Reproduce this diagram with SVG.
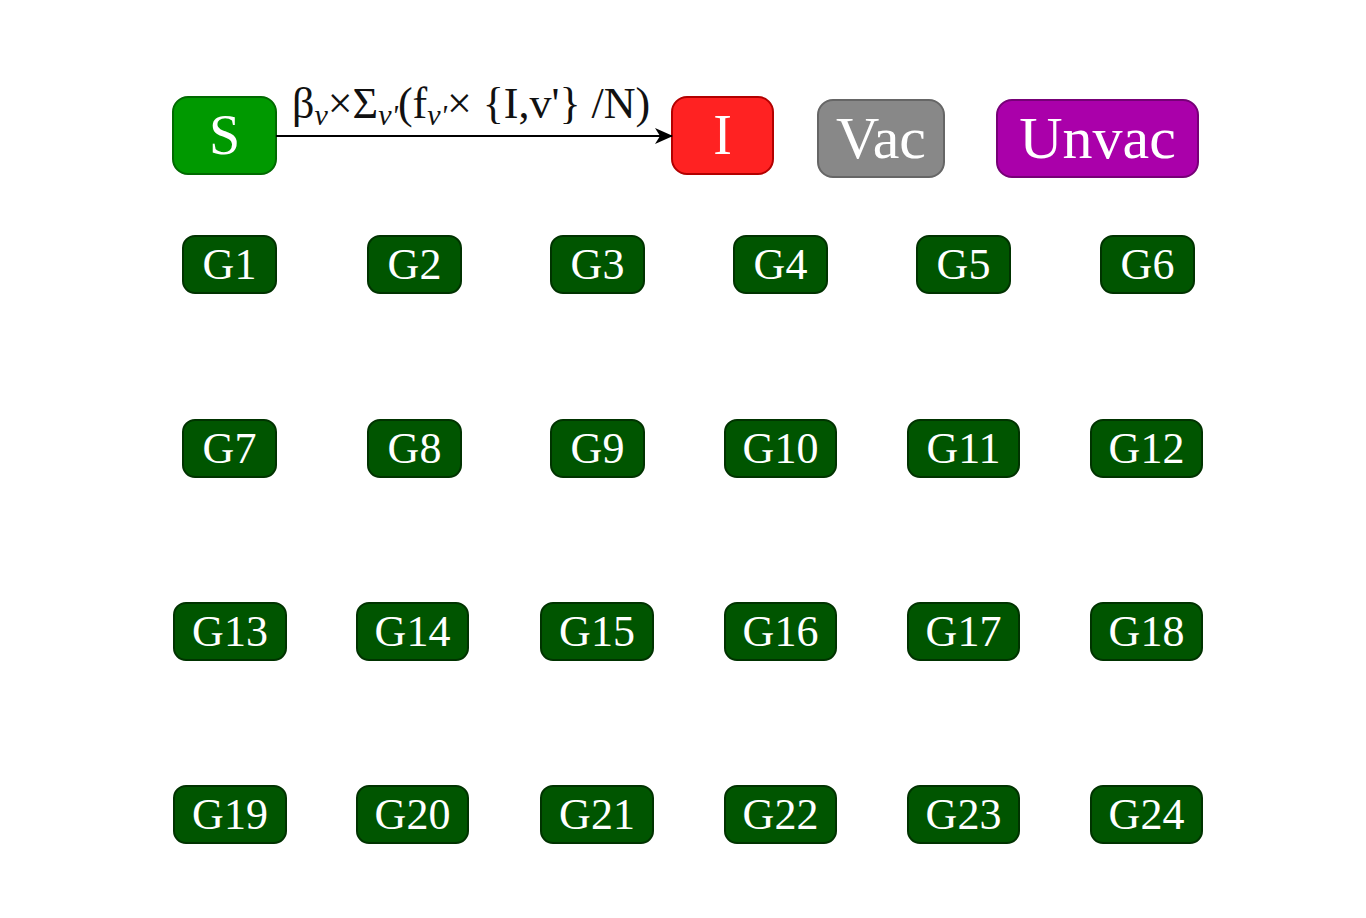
<svg xmlns="http://www.w3.org/2000/svg" width="1366" height="918" viewBox="0 0 1366 918">
<defs>
<marker id="arr" markerWidth="18" markerHeight="16" refX="17" refY="8" orient="auto" markerUnits="userSpaceOnUse">
<path d="M0,0 L18,8 L0,16 L5,8 Z" fill="#000"/>
</marker>
</defs>
<style>
.t{font-family:"Liberation Serif","Times New Roman",serif;fill:#fff;text-anchor:middle}
.g rect{fill:#005500;stroke:#003300;stroke-width:2}
.g text{font-size:44px}
.lbl{font-family:"Liberation Serif","Times New Roman",serif;font-size:44px;fill:#111}
.sub{font-size:30px;font-style:italic}
</style>
<rect width="1366" height="918" fill="#fff"/>
<g id="S"><rect x="173" y="97" width="103" height="77" rx="15" fill="#009900" stroke="#006a00" stroke-width="2"/><text class="t" x="224.5" y="154" font-size="56">S</text></g>
<g id="I"><rect x="672" y="97" width="101" height="77" rx="15" fill="#ff2222" stroke="#b30000" stroke-width="2"/><text class="t" x="722.5" y="154" font-size="56">I</text></g>
<g id="Vac"><rect x="818" y="100" width="126" height="77" rx="15" fill="#888888" stroke="#666666" stroke-width="2"/><text class="t" x="881" y="158" font-size="60">Vac</text></g>
<g id="Unvac"><rect x="997" y="100" width="201" height="77" rx="15" fill="#aa00aa" stroke="#770077" stroke-width="2"/><text class="t" x="1097.5" y="158" font-size="60">Unvac</text></g>
<g id="connectors">
<line x1="276" y1="136" x2="672" y2="136" stroke="#000" stroke-width="2" marker-end="url(#arr)"/>
<text class="lbl" x="292" y="118">β<tspan class="sub" dy="7">v</tspan><tspan dy="-7">×Σ</tspan><tspan class="sub" dy="7">v'</tspan><tspan dy="-7">(f</tspan><tspan class="sub" dy="7">v'</tspan><tspan dy="-7">× {I,v'} /N)</tspan></text>
</g>
<g class="g">
<g id="G1"><rect x="183" y="236" width="93" height="57" rx="12"/><text class="t" x="229.5" y="279">G1</text></g>
<g id="G2"><rect x="368" y="236" width="93" height="57" rx="12"/><text class="t" x="414.5" y="279">G2</text></g>
<g id="G3"><rect x="551" y="236" width="93" height="57" rx="12"/><text class="t" x="597.5" y="279">G3</text></g>
<g id="G4"><rect x="734" y="236" width="93" height="57" rx="12"/><text class="t" x="780.5" y="279">G4</text></g>
<g id="G5"><rect x="917" y="236" width="93" height="57" rx="12"/><text class="t" x="963.5" y="279">G5</text></g>
<g id="G6"><rect x="1101" y="236" width="93" height="57" rx="12"/><text class="t" x="1147.5" y="279">G6</text></g>
<g id="G7"><rect x="183" y="420" width="93" height="57" rx="12"/><text class="t" x="229.5" y="463">G7</text></g>
<g id="G8"><rect x="368" y="420" width="93" height="57" rx="12"/><text class="t" x="414.5" y="463">G8</text></g>
<g id="G9"><rect x="551" y="420" width="93" height="57" rx="12"/><text class="t" x="597.5" y="463">G9</text></g>
<g id="G10"><rect x="725" y="420" width="111" height="57" rx="12"/><text class="t" x="780.5" y="463">G10</text></g>
<g id="G11"><rect x="908" y="420" width="111" height="57" rx="12"/><text class="t" x="963.5" y="463">G11</text></g>
<g id="G12"><rect x="1091" y="420" width="111" height="57" rx="12"/><text class="t" x="1146.5" y="463">G12</text></g>
<g id="G13"><rect x="174" y="603" width="112" height="57" rx="12"/><text class="t" x="230" y="646">G13</text></g>
<g id="G14"><rect x="357" y="603" width="111" height="57" rx="12"/><text class="t" x="412.5" y="646">G14</text></g>
<g id="G15"><rect x="541" y="603" width="112" height="57" rx="12"/><text class="t" x="597" y="646">G15</text></g>
<g id="G16"><rect x="725" y="603" width="111" height="57" rx="12"/><text class="t" x="780.5" y="646">G16</text></g>
<g id="G17"><rect x="908" y="603" width="111" height="57" rx="12"/><text class="t" x="963.5" y="646">G17</text></g>
<g id="G18"><rect x="1091" y="603" width="111" height="57" rx="12"/><text class="t" x="1146.5" y="646">G18</text></g>
<g id="G19"><rect x="174" y="786" width="112" height="57" rx="12"/><text class="t" x="230" y="829">G19</text></g>
<g id="G20"><rect x="357" y="786" width="111" height="57" rx="12"/><text class="t" x="412.5" y="829">G20</text></g>
<g id="G21"><rect x="541" y="786" width="112" height="57" rx="12"/><text class="t" x="597" y="829">G21</text></g>
<g id="G22"><rect x="725" y="786" width="111" height="57" rx="12"/><text class="t" x="780.5" y="829">G22</text></g>
<g id="G23"><rect x="908" y="786" width="111" height="57" rx="12"/><text class="t" x="963.5" y="829">G23</text></g>
<g id="G24"><rect x="1091" y="786" width="111" height="57" rx="12"/><text class="t" x="1146.5" y="829">G24</text></g>
</g>
</svg>
